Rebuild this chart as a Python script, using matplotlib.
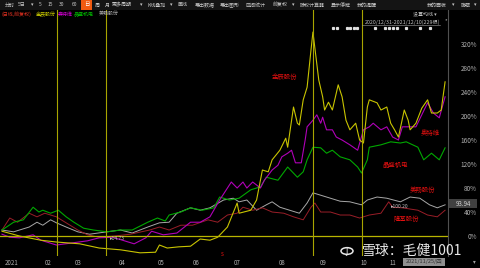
import numpy as np
import matplotlib.pyplot as plt
from matplotlib.patches import Rectangle, Circle
from matplotlib.transforms import blended_transform_factory

plt.rcParams['font.family'] = ['Noto Sans CJK SC', 'DejaVu Sans']

W, H = 480, 268
fig = plt.figure(figsize=(4.8, 2.68), dpi=100, facecolor='black')

# ---- 数据 (涨幅 %, 按交易日序号) ----
jc_day = [0, 9, 20, 28, 40, 50, 61, 71, 79, 81, 85, 91, 97, 102, 107, 111, 116, 121, 122, 128, 131,
          134, 137, 139, 143, 146, 147, 150, 152, 153, 155, 157, 159, 160, 163, 165, 166, 168, 170,
          173, 175, 177, 179, 182, 184, 186, 188, 189, 193, 195, 198, 200, 202, 204, 207, 209, 210,
          213, 216, 219, 221, 224, 226, 228]
jc_pct = [8, 0, -7, -10, -13, -20, -23, -28, -27, -15, -20, -18, -17, -5, -7, -2, 15, 55, 38, 43, 60,
          110, 107, 127, 143, 163, 148, 215, 188, 185, 227, 248, 310, 340, 260, 232, 210, 223, 210,
          252, 232, 193, 177, 188, 160, 155, 215, 227, 222, 210, 215, 188, 177, 165, 210, 193, 177,
          188, 213, 227, 205, 205, 210, 257]

atw_day = [0, 4, 9, 16, 20, 28, 35, 44, 50, 57, 63, 68, 74, 77, 83, 90, 97, 102, 107, 112, 118, 121,
           124, 126, 129, 133, 135, 139, 142, 144, 147, 149, 151, 154, 156, 157, 160, 162, 164, 165,
           167, 170, 172, 175, 179, 183, 186, 189, 191, 195, 198, 201, 204, 206, 209, 213, 216, 219,
           222, 225, 228]
atw_pct = [3, -2, -3, 2, -7, -15, -12, -8, -3, -2, -8, -13, -3, 8, 2, 5, 23, 23, 32, 60, 90, 80,
           90, 80, 90, 80, 93, 110, 118, 132, 138, 143, 122, 122, 160, 182, 193, 202, 188, 198,
           177, 177, 165, 160, 152, 143, 177, 182, 188, 177, 182, 165, 160, 182, 182, 182, 202, 222,
           205, 197, 232]

jsjd_day = [0, 6, 11, 16, 19, 21, 25, 29, 33, 37, 42, 47, 54, 61, 67, 75, 80, 84, 86, 92, 97, 103,
            109, 112, 117, 122, 128, 133, 136, 142, 147, 152, 155, 157, 160, 164, 167, 170, 174, 179,
            183, 185, 188, 189, 195, 200, 205, 208, 214, 217, 221, 225, 228]
jsjd_pct = [10, 23, 27, 48, 40, 43, 38, 43, 32, 23, 13, 10, 7, 10, 10, 23, 30, 25, 35, 40, 47, 43,
            47, 65, 60, 63, 77, 82, 98, 93, 115, 98, 107, 127, 148, 147, 138, 143, 132, 127,
            115, 105, 127, 148, 152, 157, 155, 157, 148, 127, 138, 127, 147]

mc_day = [0, 6, 14, 18, 21, 25, 28, 33, 39, 45, 54, 61, 67, 75, 81, 86, 90, 97, 102, 107, 114, 119,
          122, 126, 131, 136, 139, 143, 148, 153, 157, 160, 164, 169, 174, 179, 185, 188, 193, 198,
          205, 210, 215, 220, 224, 228]
mc_pct = [10, 7, 15, 23, 18, 27, 22, 15, 7, 3, 7, 10, 5, 15, 22, 23, 38, 47, 43, 47, 60, 63,
          57, 60, 43, 52, 57, 48, 43, 38, 55, 72, 68, 63, 58, 57, 52, 60, 65, 63,
          57, 65, 63, 52, 47, 52]

lj_day = [0, 4, 8, 14, 18, 22, 28, 33, 39, 44, 50, 58, 66, 76, 81, 86, 92, 98, 106, 111, 116, 121,
          124, 129, 134, 139, 145, 150, 155, 159, 161, 164, 169, 174, 179, 184, 189, 195, 199, 201,
          206, 214, 219, 224, 228]
lj_pct = [10, 30, 23, 38, 32, 38, 32, 22, 10, 2, -2, 0, 3, 10, 15, 10, 18, 18, 27, 23, 35, 38,
          48, 43, 47, 40, 38, 32, 27, 48, 55, 40, 40, 35, 35, 30, 35, 38, 57, 48,
          47, 43, 35, 32, 43]

legend_names = ['(日线,前复权)', '金辰股份', '奥特维', '晶盛机电', '美畅股份']
legend_colors = ['#e03020', '#d0d000', '#d000d0', '#00c000', '#b0b0b0']
legend_x = [2, 36, 58, 74, 99]

month_days = [5, 24, 39, 62, 82, 100, 121, 144, 165, 186, 201]
month_labels = ['2021', '02', '03', '04', '05', '06', '07', '08', '09', '10', '11']
vline_days = [28.3, 53.5, 160.1, 185.3]
mark_days = [170.4, 172.4, 177.6, 179, 181, 182.7, 192, 197, 199, 201, 203, 208, 215, 220]
y_ticks = [0, 40, 80, 120, 160, 200, 240, 280, 320]

toolbar = [('分时', 10), ('5日', 22), ('▾', 32), ('5', 40), ('15', 50), ('30', 62), ('60', 74),
           ('周', 97), ('月', 107), ('更多周期', 122), ('▾', 141), ('K线叠加', 157), ('▾', 171),
           ('画线', 183), ('导出数据', 205), ('导出图形', 230), ('区间统计', 255), ('前复权', 280),
           ('▾', 293), ('除权计算器', 312), ('显示停牌', 341), ('我的提醒', 367), ('我的面板', 437),
           ('▾', 453), ('隐藏', 466), ('▾', 475)]


def fx(px):
    return px / W


def fy(py):
    return 1 - py / H


# 主图
ax = fig.add_axes([0, fy(256), fx(448), (256 - 10) / H])
ax.set_facecolor('black')
ax.set_xlim(-1.03, 229.5)
ax.set_ylim(-33.3, 376.7)

ax.plot(mc_day, mc_pct, color='#a8a8a8', lw=0.7)
ax.plot(lj_day, lj_pct, color='#9a1e28', lw=0.7)
ax.plot(jsjd_day, jsjd_pct, color='#00a800', lw=0.8)
ax.plot(atw_day, atw_pct, color='#b000b8', lw=0.8)
ax.plot(jc_day, jc_pct, color='#c8c400', lw=0.8)

ax.axhline(0, color='#b8b400', lw=0.9)
for d in vline_days:
    ax.axvline(d, color='#a8a400', lw=0.8)

tr = blended_transform_factory(ax.transData, ax.transAxes)
ax.plot(mark_days, [0.927] * len(mark_days), 's', color='#e0e0e0', ms=1.3, transform=tr)

ax.set_yticks(y_ticks)
ax.set_yticklabels(['%d%%' % v for v in y_ticks], fontsize=4.6, color='#b0b0b0')
ax.yaxis.tick_right()
ax.tick_params(axis='y', length=0, pad=21)
for lab in ax.get_yticklabels():
    lab.set_horizontalalignment('right')
ax.set_xticks(month_days)
ax.set_xticklabels(month_labels, fontsize=4.4, color='#b0b0b0')
ax.tick_params(axis='x', length=0, pad=2.5)
for s in ['top', 'left', 'bottom']:
    ax.spines[s].set_visible(False)
ax.spines['right'].set_color('#505050')
ax.spines['right'].set_linewidth(0.8)

# 图内标注
red = '#e01010'
for txt, x, y in [('金辰股份', 285, 77), ('奥特维', 430, 133), ('晶盛机电', 395, 165),
                  ('美畅股份', 422, 190), ('隆基股份', 406, 219)]:
    fig.text(fx(x), fy(y), txt, color=red, fontsize=4.6, ha='center', va='center')
fig.text(fx(110), fy(238), '▸14.73', color='#c0c0c0', fontsize=3.6, va='center')
fig.text(fx(391), fy(206), '▸100.20', color='#c0c0c0', fontsize=3.6, va='center')
fig.text(fx(222), fy(254), 's', color=red, fontsize=4.5, ha='center', va='center')

# 工具栏
fig.patches.append(Rectangle((0, fy(10)), 1, 10 / H, transform=fig.transFigure,
                             facecolor='#141414', edgecolor='none'))
fig.patches.append(Rectangle((fx(81), fy(9.5)), fx(11), 9 / H, transform=fig.transFigure,
                             facecolor='#f05a10', edgecolor='none'))
fig.text(fx(86.5), fy(5), '日', color='white', fontsize=3.8, ha='center', va='center')
for txt, x in toolbar:
    fig.text(fx(x), fy(5), txt, color='#c8c8c8', fontsize=3.6, ha='center', va='center')

# 图例
for name, c, x in zip(legend_names, legend_colors, legend_x):
    fig.text(fx(x), fy(14), name, color=c, fontsize=3.6, va='center')

fig.text(fx(437), fy(14), '设置均线 ▾', color='#c0c0c0', fontsize=3.6, ha='right', va='center')
fig.text(fx(440), fy(22), '2020/12/31-2021/12/10(229根)', color='#c0c0c0', fontsize=3.8,
         ha='right', va='center')
fig.lines.append(plt.Line2D([fx(362), fx(440)], [fy(25), fy(25)], transform=fig.transFigure,
                            color='#a0a0a0', lw=0.4))
fig.text(fx(445), fy(21), '*', color='#c0c0c0', fontsize=4, va='center')

# 右侧价格框
fig.patches.append(Rectangle((fx(449), fy(208)), fx(28), 9 / H, transform=fig.transFigure,
                             facecolor='#404040', edgecolor='none'))
fig.text(fx(463), fy(203.5), '93.94', color='#d0d0d0', fontsize=4.4, ha='center', va='center')

# 底部日期框
fig.patches.append(Rectangle((fx(403), fy(266)), fx(42), 8.5 / H, transform=fig.transFigure,
                             facecolor='#909090', edgecolor='none'))
fig.text(fx(424), fy(261.8), '2021/11/25/四', color='#303030', fontsize=4.0, ha='center', va='center')
fig.text(fx(474), fy(262), '▾', color='#a0a0a0', fontsize=4, ha='center', va='center')

# 水印
fig.patches.append(Circle((fx(347), fy(251)), 6 / W, transform=fig.transFigure,
                          facecolor='none', edgecolor='#e8e8e8', lw=1.1))
fig.text(fx(347), fy(251), 'ʃ', color='#e8e8e8', fontsize=6, ha='center', va='center')
fig.text(fx(362), fy(251), '雪球：毛健1001', color='#e8e8e8', fontsize=10, va='center')

fig.savefig('out.png', dpi=100, facecolor='black')
